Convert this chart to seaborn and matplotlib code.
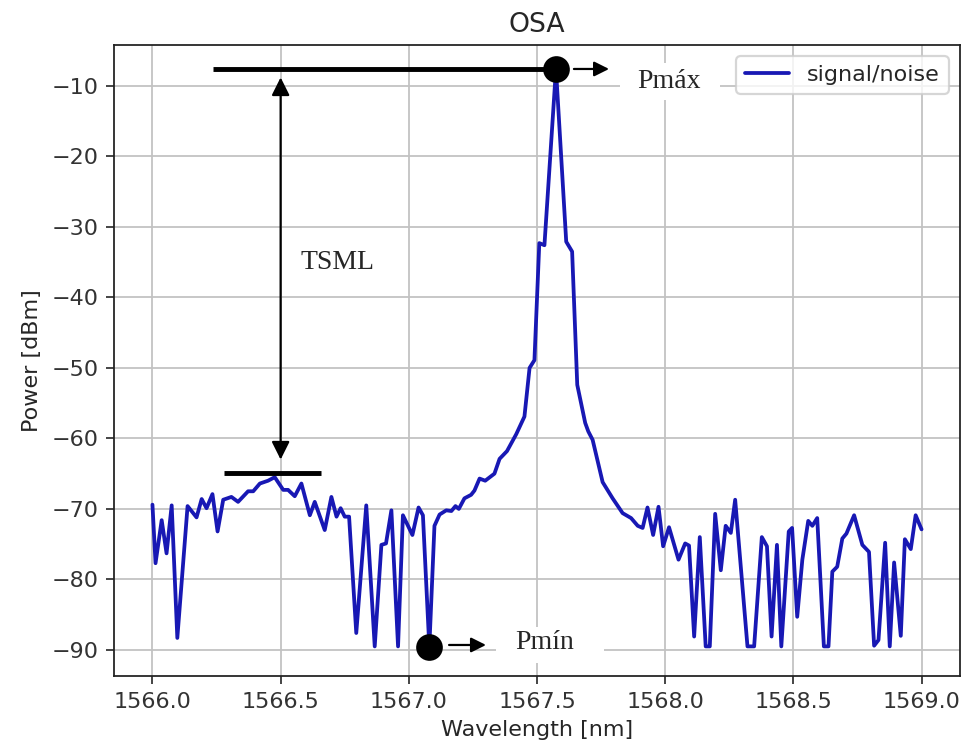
import matplotlib
matplotlib.use("Agg")
import matplotlib.pyplot as plt
import numpy as np
import pandas as pd
import seaborn as sns
from matplotlib.patches import Rectangle
from matplotlib.ticker import FormatStrFormatter

# Optical spectrum analyser trace: wavelength [nm] vs power [dBm]
wavelength_nm = [
    1566.000, 1566.012, 1566.036, 1566.055, 1566.075, 1566.097, 1566.137, 1566.172,
    1566.192, 1566.211, 1566.234, 1566.254, 1566.276, 1566.308, 1566.334, 1566.373,
    1566.393, 1566.419, 1566.451, 1566.477, 1566.510, 1566.529, 1566.555, 1566.581,
    1566.614, 1566.633, 1566.672, 1566.698, 1566.718, 1566.734, 1566.750, 1566.767,
    1566.795, 1566.834, 1566.867, 1566.893, 1566.911, 1566.932, 1566.958, 1566.977,
    1567.014, 1567.038, 1567.055, 1567.080, 1567.100, 1567.120, 1567.146, 1567.166,
    1567.182, 1567.195, 1567.217, 1567.243, 1567.256, 1567.276, 1567.298, 1567.334,
    1567.354, 1567.383, 1567.419, 1567.451, 1567.471, 1567.490, 1567.509, 1567.529,
    1567.574, 1567.614, 1567.637, 1567.657, 1567.688, 1567.700, 1567.717, 1567.756,
    1567.795, 1567.834, 1567.867, 1567.893, 1567.912, 1567.931, 1567.953, 1567.974,
    1567.992, 1568.015, 1568.052, 1568.078, 1568.093, 1568.113, 1568.135, 1568.158,
    1568.174, 1568.195, 1568.217, 1568.236, 1568.256, 1568.273, 1568.321, 1568.347,
    1568.377, 1568.397, 1568.415, 1568.436, 1568.453, 1568.482, 1568.495, 1568.515,
    1568.535, 1568.558, 1568.574, 1568.593, 1568.619, 1568.637, 1568.652, 1568.671,
    1568.691, 1568.707, 1568.737, 1568.769, 1568.795, 1568.815, 1568.832, 1568.858,
    1568.876, 1568.893, 1568.919, 1568.935, 1568.958, 1568.977, 1569.000,
]
power_dbm = [
    -69.4, -77.7, -71.6, -76.3, -69.5, -88.3, -69.6, -71.2,
    -68.6, -69.9, -67.9, -73.2, -68.7, -68.3, -69.0, -67.5,
    -67.5, -66.4, -66.0, -65.5, -67.3, -67.3, -68.2, -66.4,
    -70.9, -69.0, -73.0, -68.3, -71.1, -69.9, -71.1, -71.1,
    -87.6, -69.5, -89.5, -75.1, -74.9, -70.2, -89.5, -70.9,
    -73.7, -69.8, -70.9, -89.6, -72.4, -70.8, -70.2, -70.3,
    -69.6, -70.0, -68.5, -68.0, -67.4, -65.7, -66.0, -65.0,
    -62.9, -61.8, -59.4, -56.9, -50.0, -48.9, -32.3, -32.6,
    -7.6, -32.1, -33.5, -52.4, -57.8, -59.0, -60.2, -66.2,
    -68.5, -70.6, -71.3, -72.4, -72.7, -69.8, -73.7, -69.7,
    -75.3, -72.6, -77.2, -74.9, -75.2, -88.1, -74.0, -89.5,
    -89.5, -70.7, -78.7, -72.4, -73.4, -68.7, -89.5, -89.5,
    -74.0, -75.3, -88.1, -75.1, -89.5, -73.2, -72.7, -85.3,
    -77.2, -71.7, -72.4, -71.3, -89.5, -89.5, -78.9, -78.2,
    -74.2, -73.5, -70.9, -75.1, -76.1, -89.4, -88.6, -74.8,
    -89.5, -77.6, -88.0, -74.3, -75.7, -70.9, -72.9,
]
series_label = "signal/noise"
chart_title = "OSA"
x_label = "Wavelength [nm]"
y_label = "Power [dBm]"
x_ticks = [1566.0, 1566.5, 1567.0, 1567.5, 1568.0, 1568.5, 1569.0]
y_ticks = [-90, -80, -70, -60, -50, -40, -30, -20, -10]
noise_floor_dbm = -64.9          # level of the side-mode plateau
tsml_wavelength = 1566.5         # where the TSML span is drawn
label_max = "Pmáx"
label_min = "Pmín"
label_span = "TSML"

sns.set_style("ticks", {
    "axes.grid": True,
    "grid.color": "#c2c2c2",
    "axes.edgecolor": "#222222",
    "xtick.color": "#333333",
    "ytick.color": "#333333",
})
plt.rcParams["font.family"] = ["DejaVu Sans"]
plt.rcParams["grid.linewidth"] = 0.8

DPI = 160
fig = plt.figure(figsize=(967 / DPI, 749 / DPI), dpi=DPI)
ax = fig.add_axes([114 / 967, 73 / 749, 846 / 967, 631 / 749])

trace = pd.DataFrame({"wavelength": wavelength_nm, "power": power_dbm})
sns.lineplot(data=trace, x="wavelength", y="power", ax=ax, color="#1818b4",
             lw=1.7, label=series_label, estimator=None, sort=False, zorder=3)

ax.set_xlim(1565.85, 1569.15)
ax.set_ylim(-93.7, -4.2)
ax.set_xticks(x_ticks)
ax.set_yticks(y_ticks)
ax.xaxis.set_major_formatter(FormatStrFormatter("%.1f"))
ax.tick_params(labelsize=10, length=3.5, width=0.8)
ax.set_title(chart_title, fontsize=12)
ax.set_xlabel(x_label, fontsize=10)
ax.set_ylabel(y_label, fontsize=10)
for s in ax.spines.values():
    s.set_linewidth(0.8)
ax.legend(loc="upper right", fontsize=10)

# Maximum / minimum of the trace
i_max = int(np.argmax(power_dbm))
i_min = int(np.argmin(power_dbm))
x_max, y_max = wavelength_nm[i_max], power_dbm[i_max]
x_min, y_min = wavelength_nm[i_min], power_dbm[i_min]

serif = "Liberation Serif"
arrow_kw = dict(arrowstyle="-|>", color="black", lw=1.0, mutation_scale=14,
                shrinkA=0, shrinkB=0)

# Pmax marker, reference line and label
ax.plot([1566.236, x_max], [y_max, y_max], color="black", lw=2.2,
        solid_capstyle="butt", zorder=4)
ax.plot(x_max, y_max, "o", ms=11, color="black", zorder=5)
ax.annotate("", xy=(x_max + 0.207, y_max), xytext=(x_max + 0.07, y_max),
            arrowprops=arrow_kw, zorder=5)
ax.add_patch(Rectangle((1567.824, -11.99), 0.39, 5.25, facecolor="white",
                       edgecolor="none", zorder=1))
ax.text(1568.016, -9.4, label_max, family=serif, fontsize=12.5,
        ha="center", va="center", zorder=5)

# TSML span between the plateau and the peak
ax.annotate("", xy=(tsml_wavelength, y_max - 1.2),
            xytext=(tsml_wavelength, noise_floor_dbm + 1.9),
            arrowprops=dict(arrowstyle="<|-|>", color="black", lw=1.0,
                            mutation_scale=17, shrinkA=0, shrinkB=0), zorder=5)
ax.plot([1566.279, 1566.659], [noise_floor_dbm, noise_floor_dbm], color="black",
        lw=2.2, solid_capstyle="butt", zorder=4)
ax.text(1566.723, -35.1, label_span, family=serif, fontsize=12.5,
        ha="center", va="center", zorder=5)

# Pmin marker and label
ax.plot(x_min, y_min, "o", ms=11, color="black", zorder=5)
ax.annotate("", xy=(x_min + 0.221, y_min + 0.3), xytext=(x_min + 0.077, y_min + 0.3),
            arrowprops=arrow_kw, zorder=5)
ax.add_patch(Rectangle((1567.340, -91.84), 0.421, 5.1, facecolor="white",
                       edgecolor="none", zorder=1))
ax.text(1567.531, -89.0, label_min, family=serif, fontsize=12.5,
        ha="center", va="center", zorder=5)

fig.savefig("out.png", dpi=DPI)
